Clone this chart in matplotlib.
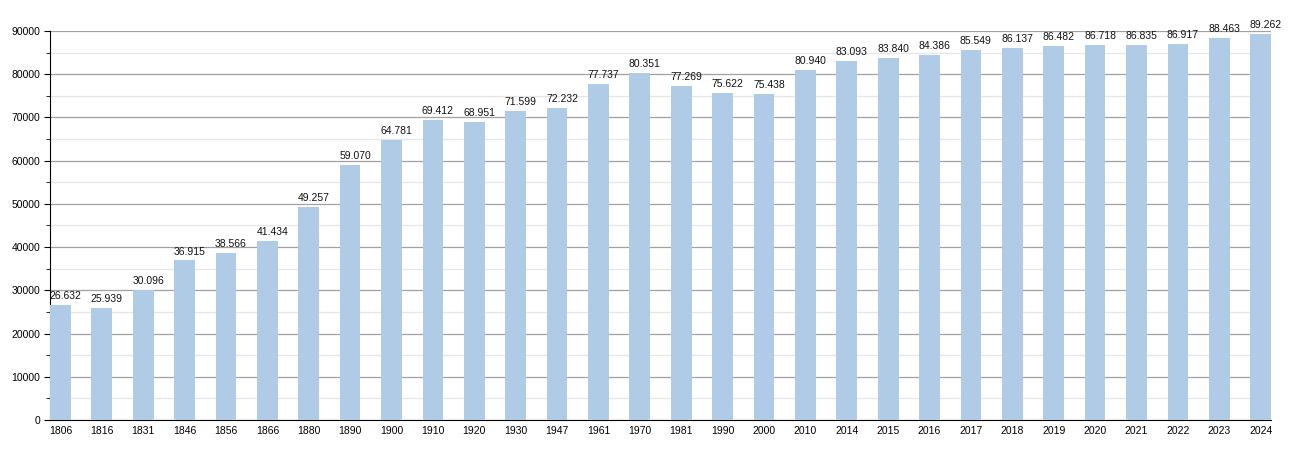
import matplotlib
matplotlib.use('Agg')
import matplotlib.pyplot as plt
from matplotlib.ticker import MultipleLocator
import numpy as np

years = ['1806', '1816', '1831', '1846', '1856', '1866', '1880', '1890', '1900', '1910',
         '1920', '1930', '1947', '1961', '1970', '1981', '1990', '2000', '2010', '2014',
         '2015', '2016', '2017', '2018', '2019', '2020', '2021', '2022', '2023', '2024']
population = [26632, 25939, 30096, 36915, 38566, 41434, 49257, 59070, 64781, 69412,
              68951, 71599, 72232, 77737, 80351, 77269, 75622, 75438, 80940, 83093,
              83840, 84386, 85549, 86137, 86482, 86718, 86835, 86917, 88463, 89262]

plt.rcParams['font.family'] = ['Liberation Sans', 'DejaVu Sans']

fig = plt.figure(figsize=(13, 4.5), dpi=100)
ax = fig.add_axes([0.0385, 0.0667, 0.9392, 0.8644])

x = np.arange(len(years))
barColor = '#b0cbe5'

# soft glow on the right side of each bar
for off, a in [(0.30, 0.25), (0.36, 0.12)]:
    ax.bar(x + off - 0.25 + 0.03, population, width=0.06, color=barColor, alpha=a,
           linewidth=0, zorder=2)
ax.bar(x, population, width=0.5, color=barColor, linewidth=0, zorder=3)

for xi, v in zip(x, population):
    label = '{:,}'.format(v).replace(',', '.')
    ax.text(xi + 0.12, v + 900, label, ha='center', va='bottom', fontsize=7.5,
            color='#111111', zorder=4)

ax.set_xlim(-0.25, len(years) - 0.75)
ax.set_ylim(0, 90000)
ax.set_xticks(x)
ax.set_xticklabels(years)
ax.yaxis.set_major_locator(MultipleLocator(10000))
ax.yaxis.set_minor_locator(MultipleLocator(5000))
ax.grid(axis='y', which='major', color='#a0a0a0', linewidth=0.9, zorder=1)
ax.grid(axis='y', which='minor', color='#e6e6e6', linewidth=0.9, zorder=1)
ax.set_axisbelow(True)

ax.spines['top'].set_visible(False)
ax.spines['right'].set_visible(False)
ax.spines['left'].set_color('#000000')
ax.spines['bottom'].set_color('#000000')
ax.tick_params(axis='x', length=0, labelsize=7.5, pad=4)
ax.tick_params(axis='y', which='major', length=4, labelsize=7.5, pad=3)
ax.tick_params(axis='y', which='minor', length=3)

fig.savefig('out.png', dpi=100)
